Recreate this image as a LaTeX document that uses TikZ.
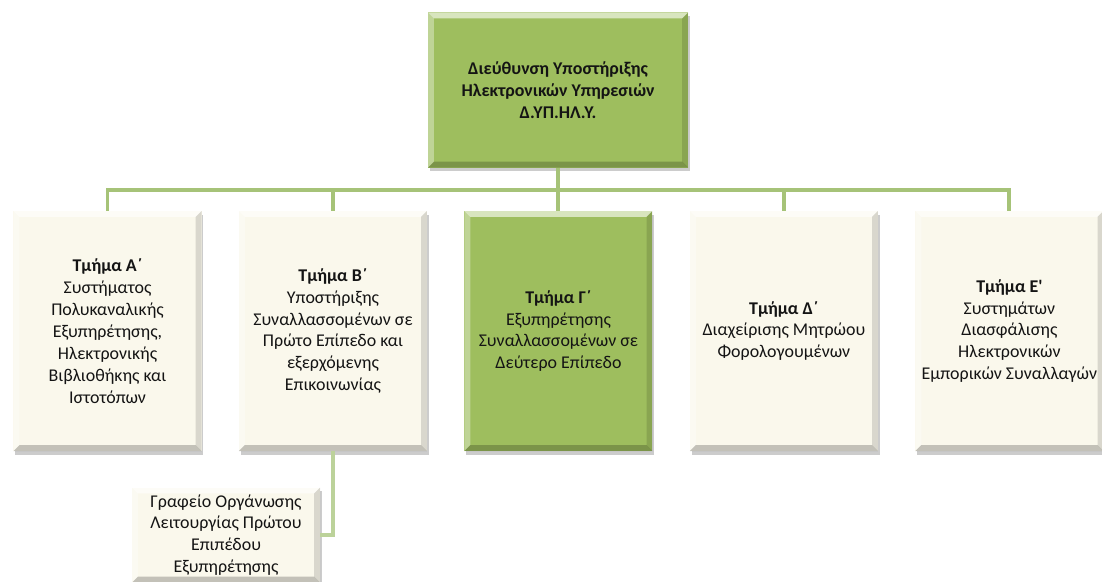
\documentclass[tikz,border=0pt]{standalone}
\usepackage{fontspec}
\setmainfont{Carlito}
\usetikzlibrary{
  positioning,
  calc,
  shadows
}

\definecolor{unitgreen}{RGB}{158,190,94}
\definecolor{unitcream}{RGB}{250,248,236}
\definecolor{linkgreen}{RGB}{166,195,120}

\tikzset{
  % raised edges of the boxes
  bevel/.style={path picture={
    \path (path picture bounding box.south west) coordinate (bsw)
          (path picture bounding box.north east) coordinate (bne);
    \fill[white,opacity=.6] (bsw |- bne) -- (bne) -- ($(bne)+(-5pt,-5pt)$)
      -- ($(bsw |- bne)+(5pt,-5pt)$) -- cycle;
    \fill[white,opacity=.35] (bsw) -- (bsw |- bne) -- ($(bsw |- bne)+(5pt,-5pt)$)
      -- ($(bsw)+(5pt,5pt)$) -- cycle;
    \fill[black,opacity=.13] (bne) -- (bne |- bsw) -- ($(bne |- bsw)+(-5pt,5pt)$)
      -- ($(bne)+(-5pt,-5pt)$) -- cycle;
    \fill[black,opacity=.22] (bsw) -- (bne |- bsw) -- ($(bne |- bsw)+(-5pt,5pt)$)
      -- ($(bsw)+(5pt,5pt)$) -- cycle;
  }},
  unit/.style={rectangle, fill=unitcream, bevel, align=center, inner sep=2pt,
    minimum width=5.64cm, minimum height=7.2cm, text=black!92,
    font=\fontsize{15.3}{18.7}\selectfont,
    drop shadow={shadow xshift=1.5pt, shadow yshift=-3pt, opacity=.4}},
  head/.style={unit, fill=unitgreen, minimum width=7.8cm, minimum height=4.65cm},
  office/.style={unit, minimum height=2.85cm},
  link/.style={draw=linkgreen, line width=3.4pt}
}

\begin{document}
\begin{tikzpicture}[x=0.03cm, y=-0.03cm]
  \useasboundingbox (0,0) rectangle (1102,581);

  % directorate
  \node[head] (dir) at (558,90)
    {\textbf{Διεύθυνση Υποστήριξης}\\\textbf{Ηλεκτρονικών Υπηρεσιών}\\\textbf{Δ.ΥΠ.ΗΛ.Υ.}};

  % departments
  \node[unit] (tmA) at (107.5,331)
    {\textbf{Τμήμα Α΄}\\Συστήματος\\Πολυκαναλικής\\Εξυπηρέτησης,\\Ηλεκτρονικής\\Βιβλιοθήκης και\\Ιστοτόπων};
  \node[unit, right=1.11cm of tmA] (tmB)
    {\textbf{Τμήμα Β΄}\\Υποστήριξης\\Συναλλασσομένων σε\\Πρώτο Επίπεδο και\\εξερχόμενης\\Επικοινωνίας};
  \node[unit, fill=unitgreen, right=1.11cm of tmB] (tmC)
    {\textbf{Τμήμα Γ΄}\\Εξυπηρέτησης\\Συναλλασσομένων σε\\Δεύτερο Επίπεδο};
  \node[unit, right=1.11cm of tmC] (tmD)
    {\textbf{Τμήμα Δ΄}\\Διαχείρισης Μητρώου\\Φορολογουμένων};
  \node[unit, right=1.11cm of tmD] (tmE)
    {\textbf{Τμήμα Ε\textquotesingle}\\Συστημάτων\\Διασφάλισης\\Ηλεκτρονικών\\Εμπορικών Συναλλαγών};

  % office under B
  \node[office] (gr) at (226,535)
    {Γραφείο Οργάνωσης\\Λειτουργίας Πρώτου\\Επιπέδου\\Εξυπηρέτησης};

  % connectors
  \coordinate (bus) at (558,190);
  \draw[link] (dir.south) -- (dir.south |- bus);
  \draw[link] (tmA.north) -- (tmA.north |- bus) -- (tmE.north |- bus) -- (tmE.north);
  \foreach \t in {tmB,tmC,tmD}
    \draw[link] (\t.north) -- (\t.north |- bus);
  \draw[link, draw=linkgreen!75] (tmB.south) |- (gr.east);
\end{tikzpicture}
\end{document}
